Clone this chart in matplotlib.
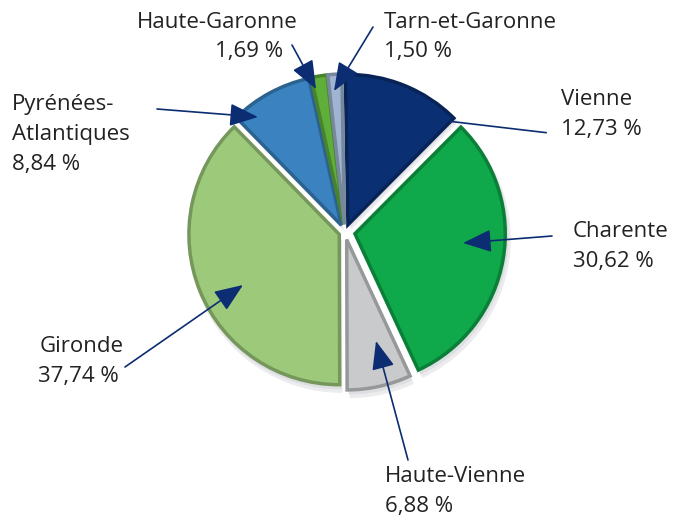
import matplotlib.pyplot as plt
import matplotlib.colors as mcolors

depts = ['Vienne', 'Charente', 'Haute-Vienne', 'Gironde',
         'Pyrénées-Atlantiques', 'Haute-Garonne', 'Tarn-et-Garonne']
shares = [12.73, 30.62, 6.88, 37.74, 8.84, 1.69, 1.50]
colors = ['#0a2f73', '#0fa84a', '#c9cacc', '#9dc97a', '#3b82c0', '#5fae3a', '#9fb4d0']
explode = [0.05, 0.065, 0.05, 0.04, 0.05, 0.05, 0.05]

plt.rcParams['font.family'] = ['Open Sans', 'DejaVu Sans']

fig = plt.figure(figsize=(6.82, 5.17), dpi=100)
ax = fig.add_axes([0, 0, 1, 1])
R = 155.0
cx, cy = 345, 232


def px(x, y):
    # pixel coords of the picture -> data coords
    return ((x - cx) / R, (cy - y) / R)


def darker(c, f=0.7):
    r, g, b = mcolors.to_rgb(c)
    return (r * f, g * f, b * f)


# soft shadow underneath
for k, (off, col) in enumerate([(0.035, '#ececee'), (0.02, '#dedfe2')]):
    ax.pie(shares, radius=0.97 + off / 2, startangle=91, counterclock=False,
           explode=explode, colors=[col] * len(shares),
           wedgeprops=dict(linewidth=0), center=(off * 0.5, -off))

wedges, _ = ax.pie(shares, radius=0.97, startangle=91, counterclock=False,
                   explode=explode, colors=colors,
                   wedgeprops=dict(linewidth=0))
for w, c in zip(wedges, colors):
    w.set_edgecolor(darker(c, 0.75))
    w.set_linewidth(2.5)

ax.set_xlim(-cx / R, (682 - cx) / R)
ax.set_ylim(-(517 - cy) / R, cy / R)
ax.set_aspect('equal')
ax.axis('off')

navy = '#0c2d72'
fs = 16
arrow = dict(arrowstyle='-|>,head_length=0.8,head_width=0.32', color=navy,
             lw=1.2, mutation_scale=22, shrinkA=0, shrinkB=0)

# text labels: (text, x, baseline y, ha)
labels = [
    ('Haute-Garonne', 137, 28, 'left'), ('1,69 %', 283, 57, 'right'),
    ('Tarn-et-Garonne', 384, 28, 'left'), ('1,50 %', 384, 57, 'left'),
    ('Vienne', 561, 105, 'left'), ('12,73 %', 561, 135, 'left'),
    ('Charente', 573, 237, 'left'), ('30,62 %', 573, 267, 'left'),
    ('Haute-Vienne', 385, 482, 'left'), ('6,88 %', 385, 512, 'left'),
    ('Gironde', 40, 352, 'left'), ('37,74 %', 38, 382, 'left'),
    ('Pyrénées-', 12, 110, 'left'), ('Atlantiques', 12, 140, 'left'),
    ('8,84 %', 12, 170, 'left'),
]
for t, x, y, ha in labels:
    ax.text(*px(x, y), t, ha=ha, va='baseline', fontsize=fs, color='#222222')

# arrows: (start, end, with head)
arrows = [
    ((292, 45), (316, 89), True),
    ((373, 27), (334, 91), True),
    ((549, 133), (447, 121), False),
    ((552, 236), (463, 243), True),
    ((408, 460), (376, 341), True),
    ((125, 367), (243, 285), True),
    ((157, 109), (258, 117), True),
]
for s, e, head in arrows:
    props = dict(arrow) if head else dict(arrowstyle='-', color=navy, lw=1.2)
    ax.annotate('', xy=px(*e), xytext=px(*s), arrowprops=props)

fig.savefig('out.png', dpi=100)
